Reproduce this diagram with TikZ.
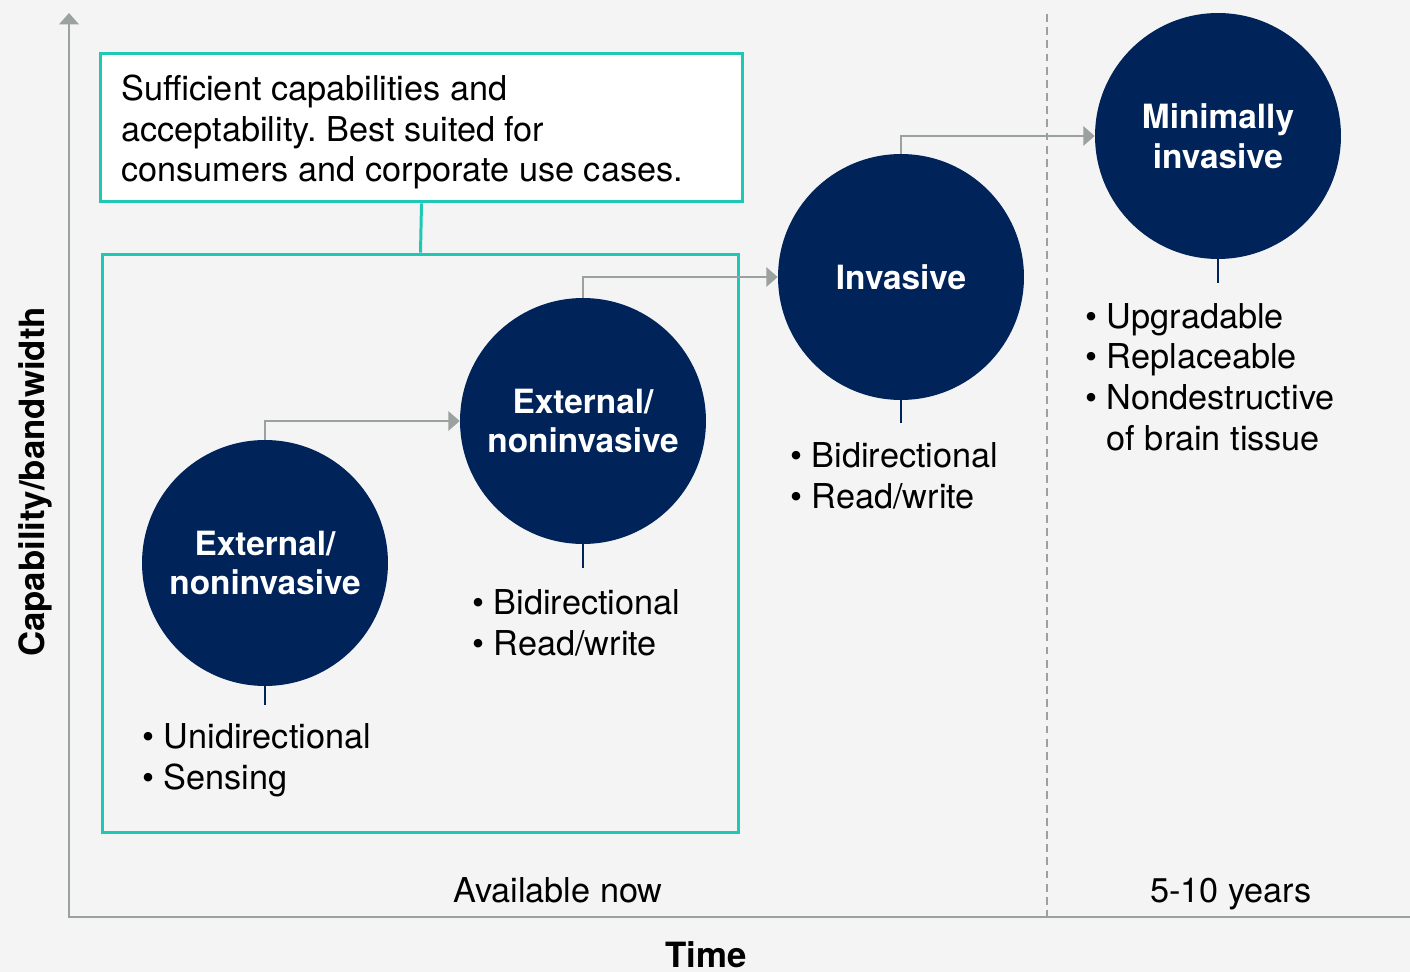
\documentclass[tikz,border=0pt]{standalone}
\usepackage{fontspec}
\setmainfont{TeX Gyre Heros}
\usetikzlibrary{arrows.meta}

\definecolor{navy}{HTML}{00235A}
\definecolor{tealline}{HTML}{1DC8B4}
\definecolor{axisgray}{HTML}{9AA19E}
\definecolor{paper}{HTML}{F4F4F4}

\tikzset{
  bub/.style={circle, fill=navy, text=white, inner sep=0pt, minimum size=4.92cm,
    align=center, font=\fontsize{19}{22.7}\selectfont\bfseries},
  stem/.style={draw=navy, line width=1.2pt},
  stepline/.style={draw=axisgray, line width=1.5pt, -{Triangle[length=6.5pt,width=11pt]}},
  list/.style={anchor=west, align=left, inner sep=0pt, font=\fontsize{19.5}{23.2}\selectfont},
  lbl/.style={inner sep=0pt, font=\fontsize{19.5}{23.2}\selectfont},
  axlbl/.style={inner sep=0pt, font=\fontsize{19.8}{23.2}\selectfont\bfseries}
}

\begin{document}
\frenchspacing
\begin{tikzpicture}[x=0.02cm, y=-0.02cm]
			%%%%% BACKGROUND %%%%%
			\fill[paper] (0, 0) rectangle (1410, 972);
			\useasboundingbox (0, 0) rectangle (1410, 972);
			
			%%%%% AXES %%%%%
			\draw[axisgray, line width=1.7pt, -{Triangle[length=6.5pt,width=11pt]}] (1410, 917) -- (69, 917) -- (69, 13);
			\draw[axisgray, line width=1.2pt, dash pattern=on 4.5pt off 3pt] (1047, 14) -- (1047, 917);
			
			%%%%% BOXES %%%%%
			\node[draw=tealline, fill=white, line width=1.7pt, minimum width=12.86cm, minimum height=2.98cm] (noteframe) at (421.5, 127.5) {};
			\node[lbl, anchor=west, align=left] (note) at (121, 132)
			      {Sufficient capabilities and\\acceptability. Best suited for\\consumers and corporate use cases.};
			\node[draw=tealline, line width=1.7pt, minimum width=12.74cm, minimum height=11.58cm] (now) at (420.5, 543.5) {};
			\draw[tealline, line width=1.7pt] (noteframe.south) -- (now.north);
			
			%%%%% STAGES %%%%%
			\node[bub] (ext1) at (265, 563) {External/\\noninvasive};
			\node[bub] (ext2) at (583, 421) {External/\\noninvasive};
			\node[bub] (inv) at (901, 277) {Invasive};
			\node[bub] (mini) at (1218, 136) {Minimally\\invasive};
			
			\draw[stem] (ext1.south) -- ++(0, 19);
			\draw[stem] (ext2.south) -- ++(0, 24);
			\draw[stem] (inv.south) -- ++(0, 23);
			\draw[stem] (mini.south) -- ++(0, 24);
			
			\draw[stepline] (ext1.north) |- (ext2.west);
			\draw[stepline] (ext2.north) |- (inv.west);
			\draw[stepline] (inv.north) |- (mini.west);
			
			%%%%% LISTS %%%%%
			\node[list] (l1) at (142, 760) {• Unidirectional\\• Sensing};
			\node[list] (l2) at (472, 623) {• Bidirectional\\• Read/write};
			\node[list] (l3) at (790, 476) {• Bidirectional\\• Read/write};
			\node[list] (l4) at (1085, 377) {• Upgradable\\• Replaceable\\• Nondestructive\\\phantom{• }of brain tissue};
			
			%%%%% LABELS %%%%%
			\node[lbl, anchor=base] (avail) at (558, 902) {Available now};
			\node[lbl, anchor=base] (later) at (1231, 902) {5-10 years};
			\node[axlbl, anchor=base] (time) at (706, 967) {Time};
			\node[axlbl, rotate=90] (cap) at (35, 482) {Capability/bandwidth};
			
			%%%%% END %%%%%
\end{tikzpicture}
\end{document}
